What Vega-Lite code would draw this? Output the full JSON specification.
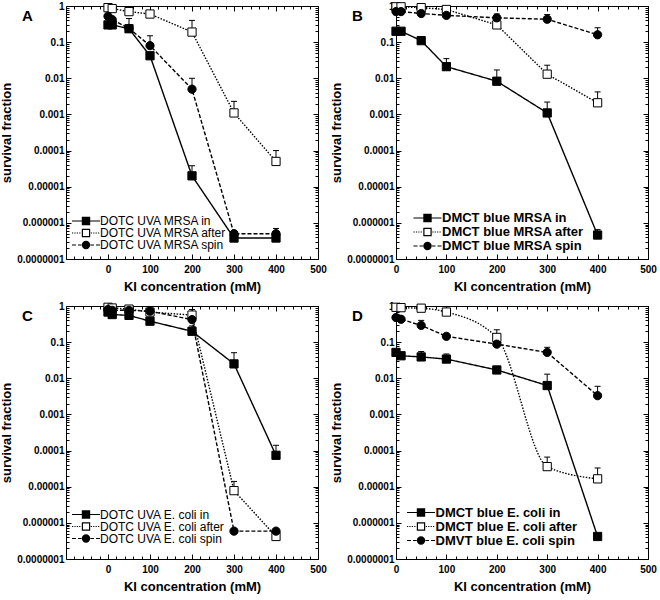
{
  "$schema": "https://vega.github.io/schema/vega-lite/v6.json",
  "padding": {"left": 0, "top": 0, "right": 0, "bottom": 0},
  "background": "white",
  "config": {
    "view": {"stroke": "black", "strokeWidth": 1},
    "font": "Liberation Sans",
    "axis": {"domain": false, "grid": false, "tickColor": "black", "tickWidth": 1, "labelColor": "black", "titleColor": "black", "labelFlush": false, "labelOverlap": false, "labelBound": false},
    "legend": {"padding": 0, "rowPadding": -1.5}
  },
  "datasets": {
    "d": [
      {"p":"A","s":"DOTC UVA MRSA in","k":"in","x":0,"y":0.3},
      {"p":"A","s":"DOTC UVA MRSA in","k":"in","x":10,"y":0.3},
      {"p":"A","s":"DOTC UVA MRSA in","k":"in","x":50,"y":0.235,"hi":0.45},
      {"p":"A","s":"DOTC UVA MRSA in","k":"in","x":100,"y":0.042},
      {"p":"A","s":"DOTC UVA MRSA in","k":"in","x":200,"y":0.00002,"hi":0.000038},
      {"p":"A","s":"DOTC UVA MRSA in","k":"in","x":300,"y":3.8e-7,"hi":4.8e-7},
      {"p":"A","s":"DOTC UVA MRSA in","k":"in","x":400,"y":3.8e-7},
      {"p":"A","s":"DOTC UVA MRSA after","k":"after","x":0,"y":0.9},
      {"p":"A","s":"DOTC UVA MRSA after","k":"after","x":10,"y":0.85},
      {"p":"A","s":"DOTC UVA MRSA after","k":"after","x":50,"y":0.7},
      {"p":"A","s":"DOTC UVA MRSA after","k":"after","x":100,"y":0.6},
      {"p":"A","s":"DOTC UVA MRSA after","k":"after","x":200,"y":0.19,"hi":0.4},
      {"p":"A","s":"DOTC UVA MRSA after","k":"after","x":300,"y":0.0011,"hi":0.0023},
      {"p":"A","s":"DOTC UVA MRSA after","k":"after","x":400,"y":0.00005,"hi":0.0001},
      {"p":"A","s":"DOTC UVA MRSA spin","k":"spin","x":0,"y":0.52},
      {"p":"A","s":"DOTC UVA MRSA spin","k":"spin","x":10,"y":0.42},
      {"p":"A","s":"DOTC UVA MRSA spin","k":"spin","x":50,"y":0.24},
      {"p":"A","s":"DOTC UVA MRSA spin","k":"spin","x":100,"y":0.08,"hi":0.15},
      {"p":"A","s":"DOTC UVA MRSA spin","k":"spin","x":200,"y":0.005,"hi":0.01},
      {"p":"A","s":"DOTC UVA MRSA spin","k":"spin","x":300,"y":5e-7,"hi":6.2e-7},
      {"p":"A","s":"DOTC UVA MRSA spin","k":"spin","x":400,"y":5e-7,"hi":7e-7},

      {"p":"B","s":"DMCT blue MRSA in","k":"in","x":0,"y":0.2},
      {"p":"B","s":"DMCT blue MRSA in","k":"in","x":10,"y":0.2},
      {"p":"B","s":"DMCT blue MRSA in","k":"in","x":50,"y":0.11},
      {"p":"B","s":"DMCT blue MRSA in","k":"in","x":100,"y":0.021,"hi":0.035},
      {"p":"B","s":"DMCT blue MRSA in","k":"in","x":200,"y":0.0083,"hi":0.017},
      {"p":"B","s":"DMCT blue MRSA in","k":"in","x":300,"y":0.0011,"hi":0.0022},
      {"p":"B","s":"DMCT blue MRSA in","k":"in","x":400,"y":4.6e-7,"hi":6.5e-7},
      {"p":"B","s":"DMCT blue MRSA after","k":"after","x":0,"y":0.95},
      {"p":"B","s":"DMCT blue MRSA after","k":"after","x":10,"y":0.95},
      {"p":"B","s":"DMCT blue MRSA after","k":"after","x":50,"y":0.9},
      {"p":"B","s":"DMCT blue MRSA after","k":"after","x":100,"y":0.8},
      {"p":"B","s":"DMCT blue MRSA after","k":"after","x":200,"y":0.3},
      {"p":"B","s":"DMCT blue MRSA after","k":"after","x":300,"y":0.013,"hi":0.023},
      {"p":"B","s":"DMCT blue MRSA after","k":"after","x":400,"y":0.0021,"hi":0.0042},
      {"p":"B","s":"DMCT blue MRSA spin","k":"spin","x":0,"y":0.7},
      {"p":"B","s":"DMCT blue MRSA spin","k":"spin","x":10,"y":0.7},
      {"p":"B","s":"DMCT blue MRSA spin","k":"spin","x":50,"y":0.62},
      {"p":"B","s":"DMCT blue MRSA spin","k":"spin","x":100,"y":0.55},
      {"p":"B","s":"DMCT blue MRSA spin","k":"spin","x":200,"y":0.47,"hi":0.6},
      {"p":"B","s":"DMCT blue MRSA spin","k":"spin","x":300,"y":0.43,"hi":0.58},
      {"p":"B","s":"DMCT blue MRSA spin","k":"spin","x":400,"y":0.16,"hi":0.25},

      {"p":"C","s":"DOTC UVA E. coli in","k":"in","x":0,"y":0.68},
      {"p":"C","s":"DOTC UVA E. coli in","k":"in","x":10,"y":0.58},
      {"p":"C","s":"DOTC UVA E. coli in","k":"in","x":50,"y":0.55},
      {"p":"C","s":"DOTC UVA E. coli in","k":"in","x":100,"y":0.38},
      {"p":"C","s":"DOTC UVA E. coli in","k":"in","x":200,"y":0.2,"hi":0.28},
      {"p":"C","s":"DOTC UVA E. coli in","k":"in","x":300,"y":0.025,"hi":0.051},
      {"p":"C","s":"DOTC UVA E. coli in","k":"in","x":400,"y":0.000074,"hi":0.00014},
      {"p":"C","s":"DOTC UVA E. coli after","k":"after","x":0,"y":0.92},
      {"p":"C","s":"DOTC UVA E. coli after","k":"after","x":10,"y":0.88},
      {"p":"C","s":"DOTC UVA E. coli after","k":"after","x":50,"y":0.82},
      {"p":"C","s":"DOTC UVA E. coli after","k":"after","x":100,"y":0.68},
      {"p":"C","s":"DOTC UVA E. coli after","k":"after","x":200,"y":0.56,"hi":0.8},
      {"p":"C","s":"DOTC UVA E. coli after","k":"after","x":300,"y":0.0000078,"hi":0.000014},
      {"p":"C","s":"DOTC UVA E. coli after","k":"after","x":400,"y":4.2e-7},
      {"p":"C","s":"DOTC UVA E. coli spin","k":"spin","x":0,"y":0.8},
      {"p":"C","s":"DOTC UVA E. coli spin","k":"spin","x":10,"y":0.76},
      {"p":"C","s":"DOTC UVA E. coli spin","k":"spin","x":50,"y":0.76},
      {"p":"C","s":"DOTC UVA E. coli spin","k":"spin","x":100,"y":0.72},
      {"p":"C","s":"DOTC UVA E. coli spin","k":"spin","x":200,"y":0.42,"hi":0.65},
      {"p":"C","s":"DOTC UVA E. coli spin","k":"spin","x":300,"y":5.9e-7},
      {"p":"C","s":"DOTC UVA E. coli spin","k":"spin","x":400,"y":5.9e-7},

      {"p":"D","s":"DMCT blue E. coli in","k":"in","x":0,"y":0.052},
      {"p":"D","s":"DMCT blue E. coli in","k":"in","x":10,"y":0.042},
      {"p":"D","s":"DMCT blue E. coli in","k":"in","x":50,"y":0.039,"hi":0.055},
      {"p":"D","s":"DMCT blue E. coli in","k":"in","x":100,"y":0.034,"hi":0.047},
      {"p":"D","s":"DMCT blue E. coli in","k":"in","x":200,"y":0.017},
      {"p":"D","s":"DMCT blue E. coli in","k":"in","x":300,"y":0.0063,"hi":0.013},
      {"p":"D","s":"DMCT blue E. coli in","k":"in","x":400,"y":4.2e-7},
      {"p":"D","s":"DMCT blue E. coli after","k":"after","x":0,"y":0.92},
      {"p":"D","s":"DMCT blue E. coli after","k":"after","x":10,"y":0.9},
      {"p":"D","s":"DMCT blue E. coli after","k":"after","x":50,"y":0.87},
      {"p":"D","s":"DMCT blue E. coli after","k":"after","x":100,"y":0.68},
      {"p":"D","s":"DMCT blue E. coli after","k":"after","x":200,"y":0.135,"hi":0.22},
      {"p":"D","s":"DMCT blue E. coli after","k":"after","x":300,"y":0.000036,"hi":0.000066},
      {"p":"D","s":"DMCT blue E. coli after","k":"after","x":400,"y":0.0000165,"hi":0.000033},
      {"p":"D","s":"DMVT blue E. coli spin","k":"spin","x":0,"y":0.48},
      {"p":"D","s":"DMVT blue E. coli spin","k":"spin","x":10,"y":0.43},
      {"p":"D","s":"DMVT blue E. coli spin","k":"spin","x":50,"y":0.29,"hi":0.4},
      {"p":"D","s":"DMVT blue E. coli spin","k":"spin","x":100,"y":0.145},
      {"p":"D","s":"DMVT blue E. coli spin","k":"spin","x":200,"y":0.088},
      {"p":"D","s":"DMVT blue E. coli spin","k":"spin","x":300,"y":0.052,"hi":0.072},
      {"p":"D","s":"DMVT blue E. coli spin","k":"spin","x":400,"y":0.0033,"hi":0.006}
    ]
  },
  "data": {"name": "d"},
  "columns": 2,
  "spacing": {"row": 47, "column": 78},
  "bounds": "flush",
  "resolve": {"scale": {"shape": "independent", "fill": "independent", "strokeDash": "independent", "x": "independent", "y": "independent"}, "legend": {"shape": "independent"}},
  "concat": [
    {
      "width": 252, "height": 253,
      "title": {"text": "A", "anchor": "start", "frame": "group", "orient": "top", "font": "Liberation Sans", "fontSize": 15, "fontWeight": "bold", "color": "black", "dx": -44, "dy": 21, "offset": -2, "baseline": "top"},
      "transform": [{"filter": "datum.p == 'A'"}],
      "resolve": {"axis": {"x": "independent", "y": "independent"}, "scale": {"shape": "independent"}},
      "layer": [
        {"mark": {"type": "line", "color": "black", "strokeWidth": 1.4},
         "encoding": {
           "x": {"field": "x", "type": "quantitative", "scale": {"domain": [-100, 500], "nice": false, "zero": false},
                 "axis": {"orient": "bottom", "values": [0, 100, 200, 300, 400, 500], "tickSize": -5, "labelPadding": 10, "labelFont": "Liberation Sans", "labelFontSize": 10, "labelFontWeight": "bold", "title": "KI concentration (mM)", "titleFont": "Liberation Sans", "titleFontSize": 13, "titleFontWeight": "bold", "titlePadding": 6}},
           "y": {"field": "y", "type": "quantitative", "scale": {"type": "log", "domain": [1e-7, 1], "nice": false},
                 "axis": {"orient": "left", "values": [1e-7, 1e-6, 1e-5, 0.0001, 0.001, 0.01, 0.1, 1], "format": ".7~f", "tickSize": -5, "labelPadding": 7, "labelFont": "Liberation Sans", "labelFontSize": 10, "labelFontWeight": "bold", "title": "survival fraction", "titleFont": "Liberation Sans", "titleFontSize": 13, "titleFontWeight": "bold", "titlePadding": 3}},
           "strokeDash": {"field": "k", "type": "nominal", "scale": {"domain": ["in", "after", "spin"], "range": [[1, 0], [1.5, 1.5], [4, 2]]}, "legend": null}
         }},
        {"transform": [{"filter": "isValid(datum.hi)"}],
         "mark": {"type": "rule", "color": "black", "strokeWidth": 1},
         "encoding": {
           "x": {"field": "x", "type": "quantitative", "scale": {"domain": [-100, 500], "nice": false, "zero": false},
                 "axis": {"orient": "bottom", "values": [-80,-60,-40,-20,20,40,60,80,120,140,160,180,220,240,260,280,320,340,360,380,420,440,460,480], "tickSize": -3, "labels": false, "title": null, "minExtent": 0}},
           "y": {"field": "y", "type": "quantitative", "scale": {"type": "log", "domain": [1e-7, 1], "nice": false},
                 "axis": {"orient": "left", "values": [2e-7,3e-7,4e-7,5e-7,6e-7,7e-7,8e-7,9e-7,2e-6,3e-6,4e-6,5e-6,6e-6,7e-6,8e-6,9e-6,2e-5,3e-5,4e-5,5e-5,6e-5,7e-5,8e-5,9e-5,0.0002,0.0003,0.0004,0.0005,0.0006,0.0007,0.0008,0.0009,0.002,0.003,0.004,0.005,0.006,0.007,0.008,0.009,0.02,0.03,0.04,0.05,0.06,0.07,0.08,0.09,0.2,0.3,0.4,0.5,0.6,0.7,0.8,0.9], "tickSize": -3, "labels": false, "title": null, "minExtent": 0}},
           "y2": {"field": "hi"}
         }},
        {"transform": [{"filter": "isValid(datum.hi)"}],
         "mark": {"type": "point", "shape": "stroke", "size": 36, "color": "black", "strokeWidth": 1, "opacity": 1},
         "encoding": {
           "x": {"field": "x", "type": "quantitative", "scale": {"domain": [-100, 500], "nice": false, "zero": false},
                 "axis": {"orient": "top", "values": [0, 100, 200, 300, 400, 500], "tickSize": -5, "labels": false, "title": null, "minExtent": 0}},
           "y": {"field": "hi", "type": "quantitative", "scale": {"type": "log", "domain": [1e-7, 1], "nice": false},
                 "axis": {"orient": "right", "values": [1e-7, 1e-6, 1e-5, 0.0001, 0.001, 0.01, 0.1, 1], "tickSize": -5, "labels": false, "title": null, "minExtent": 0}}
         }},
        {"mark": {"type": "point", "filled": true, "opacity": 1, "stroke": "black", "strokeWidth": 1, "size": 68},
         "encoding": {
           "x": {"field": "x", "type": "quantitative", "scale": {"domain": [-100, 500], "nice": false, "zero": false},
                 "axis": {"orient": "top", "values": [-80,-60,-40,-20,20,40,60,80,120,140,160,180,220,240,260,280,320,340,360,380,420,440,460,480], "tickSize": -3, "labels": false, "title": null, "minExtent": 0}},
           "y": {"field": "y", "type": "quantitative", "scale": {"type": "log", "domain": [1e-7, 1], "nice": false},
                 "axis": {"orient": "right", "values": [2e-7,3e-7,4e-7,5e-7,6e-7,7e-7,8e-7,9e-7,2e-6,3e-6,4e-6,5e-6,6e-6,7e-6,8e-6,9e-6,2e-5,3e-5,4e-5,5e-5,6e-5,7e-5,8e-5,9e-5,0.0002,0.0003,0.0004,0.0005,0.0006,0.0007,0.0008,0.0009,0.002,0.003,0.004,0.005,0.006,0.007,0.008,0.009,0.02,0.03,0.04,0.05,0.06,0.07,0.08,0.09,0.2,0.3,0.4,0.5,0.6,0.7,0.8,0.9], "tickSize": -3, "labels": false, "title": null, "minExtent": 0}},
           "shape": {"field": "k", "type": "nominal", "scale": {"domain": ["in", "after", "spin"], "range": ["square", "square", "circle"]}, "legend": null},
           "fill": {"field": "k", "type": "nominal", "scale": {"domain": ["in", "after", "spin"], "range": ["black", "white", "black"]}, "legend": null}
         }},
        {"transform": [{"filter": "false"}],
         "mark": {"type": "point", "filled": false, "color": "black", "strokeWidth": 1.2, "opacity": 1, "size": 64},
         "encoding": {
           "x": {"field": "x", "type": "quantitative", "scale": {"domain": [-100, 500], "nice": false, "zero": false}, "axis": null},
           "y": {"field": "y", "type": "quantitative", "scale": {"type": "log", "domain": [1e-7, 1], "nice": false}, "axis": null},
           "shape": {"field": "s", "type": "nominal",
                     "scale": {"domain": ["DOTC UVA MRSA in", "DOTC UVA MRSA after", "DOTC UVA MRSA spin"],
                               "range": ["M-3.5,0H-0.9M0.9,0H3.5M-0.9,-0.9H0.9V0.9H-0.9ZM-0.9,-0.6H0.9M-0.9,-0.3H0.9M-0.9,0H0.9M-0.9,0.3H0.9M-0.9,0.6H0.9",
                                         "M-3.5,0h0.3M-2.9,0h0.3M-2.3,0h0.3M-1.7,0h0.3M1.2,0h0.3M1.8,0h0.3M2.4,0h0.3M3.0,0h0.3M-0.9,-0.9H0.9V0.9H-0.9Z",
                                         "M-3.5,0h1M-2,0h0.9M1.1,0h0.9M2.5,0h1M-0.9,0A0.9,0.9 0 1,1 0.9,0A0.9,0.9 0 1,1 -0.9,0M-0.6,0A0.6,0.6 0 1,1 0.6,0A0.6,0.6 0 1,1 -0.6,0M-0.3,0A0.3,0.3 0 1,1 0.3,0A0.3,0.3 0 1,1 -0.3,0M-0.15,0H0.15"]},
                     "legend": {"title": null, "orient": "none", "legendX": 14, "legendY": 209, "symbolSize": 64, "symbolOpacity": 1, "symbolStrokeColor": "black", "symbolStrokeWidth": 1.2, "labelOffset": 8, "labelFont": "Liberation Sans", "labelFontSize": 12, "labelFontWeight": "normal", "labelColor": "black", "labelLimit": 300, "padding": 0}}
         }}
      ]
    },
    {
      "width": 252, "height": 253,
      "title": {"text": "B", "anchor": "start", "frame": "group", "orient": "top", "font": "Liberation Sans", "fontSize": 15, "fontWeight": "bold", "color": "black", "dx": -44, "dy": 21, "offset": -2, "baseline": "top"},
      "transform": [{"filter": "datum.p == 'B'"}],
      "resolve": {"axis": {"x": "independent", "y": "independent"}, "scale": {"shape": "independent"}},
      "layer": [
        {"mark": {"type": "line", "color": "black", "strokeWidth": 1.4},
         "encoding": {
           "x": {"field": "x", "type": "quantitative", "scale": {"domain": [0, 500], "nice": false, "zero": false},
                 "axis": {"orient": "bottom", "values": [0, 100, 200, 300, 400, 500], "tickSize": -5, "labelPadding": 10, "labelFont": "Liberation Sans", "labelFontSize": 10, "labelFontWeight": "bold", "title": "KI concentration (mM)", "titleFont": "Liberation Sans", "titleFontSize": 13, "titleFontWeight": "bold", "titlePadding": 6}},
           "y": {"field": "y", "type": "quantitative", "scale": {"type": "log", "domain": [1e-7, 1], "nice": false},
                 "axis": {"orient": "left", "values": [1e-7, 1e-6, 1e-5, 0.0001, 0.001, 0.01, 0.1, 1], "format": ".7~f", "tickSize": -5, "labelPadding": 7, "labelFont": "Liberation Sans", "labelFontSize": 10, "labelFontWeight": "bold", "title": "survival fraction", "titleFont": "Liberation Sans", "titleFontSize": 13, "titleFontWeight": "bold", "titlePadding": 3}},
           "strokeDash": {"field": "k", "type": "nominal", "scale": {"domain": ["in", "after", "spin"], "range": [[1, 0], [1.5, 1.5], [4, 2]]}, "legend": null}
         }},
        {"transform": [{"filter": "isValid(datum.hi)"}],
         "mark": {"type": "rule", "color": "black", "strokeWidth": 1},
         "encoding": {
           "x": {"field": "x", "type": "quantitative", "scale": {"domain": [0, 500], "nice": false, "zero": false},
                 "axis": {"orient": "bottom", "values": [20,40,60,80,120,140,160,180,220,240,260,280,320,340,360,380,420,440,460,480], "tickSize": -3, "labels": false, "title": null, "minExtent": 0}},
           "y": {"field": "y", "type": "quantitative", "scale": {"type": "log", "domain": [1e-7, 1], "nice": false},
                 "axis": {"orient": "left", "values": [2e-7,3e-7,4e-7,5e-7,6e-7,7e-7,8e-7,9e-7,2e-6,3e-6,4e-6,5e-6,6e-6,7e-6,8e-6,9e-6,2e-5,3e-5,4e-5,5e-5,6e-5,7e-5,8e-5,9e-5,0.0002,0.0003,0.0004,0.0005,0.0006,0.0007,0.0008,0.0009,0.002,0.003,0.004,0.005,0.006,0.007,0.008,0.009,0.02,0.03,0.04,0.05,0.06,0.07,0.08,0.09,0.2,0.3,0.4,0.5,0.6,0.7,0.8,0.9], "tickSize": -3, "labels": false, "title": null, "minExtent": 0}},
           "y2": {"field": "hi"}
         }},
        {"transform": [{"filter": "isValid(datum.hi)"}],
         "mark": {"type": "point", "shape": "stroke", "size": 36, "color": "black", "strokeWidth": 1, "opacity": 1},
         "encoding": {
           "x": {"field": "x", "type": "quantitative", "scale": {"domain": [0, 500], "nice": false, "zero": false},
                 "axis": {"orient": "top", "values": [0, 100, 200, 300, 400, 500], "tickSize": -5, "labels": false, "title": null, "minExtent": 0}},
           "y": {"field": "hi", "type": "quantitative", "scale": {"type": "log", "domain": [1e-7, 1], "nice": false},
                 "axis": {"orient": "right", "values": [1e-7, 1e-6, 1e-5, 0.0001, 0.001, 0.01, 0.1, 1], "tickSize": -5, "labels": false, "title": null, "minExtent": 0}}
         }},
        {"mark": {"type": "point", "filled": true, "opacity": 1, "stroke": "black", "strokeWidth": 1, "size": 68},
         "encoding": {
           "x": {"field": "x", "type": "quantitative", "scale": {"domain": [0, 500], "nice": false, "zero": false},
                 "axis": {"orient": "top", "values": [20,40,60,80,120,140,160,180,220,240,260,280,320,340,360,380,420,440,460,480], "tickSize": -3, "labels": false, "title": null, "minExtent": 0}},
           "y": {"field": "y", "type": "quantitative", "scale": {"type": "log", "domain": [1e-7, 1], "nice": false},
                 "axis": {"orient": "right", "values": [2e-7,3e-7,4e-7,5e-7,6e-7,7e-7,8e-7,9e-7,2e-6,3e-6,4e-6,5e-6,6e-6,7e-6,8e-6,9e-6,2e-5,3e-5,4e-5,5e-5,6e-5,7e-5,8e-5,9e-5,0.0002,0.0003,0.0004,0.0005,0.0006,0.0007,0.0008,0.0009,0.002,0.003,0.004,0.005,0.006,0.007,0.008,0.009,0.02,0.03,0.04,0.05,0.06,0.07,0.08,0.09,0.2,0.3,0.4,0.5,0.6,0.7,0.8,0.9], "tickSize": -3, "labels": false, "title": null, "minExtent": 0}},
           "shape": {"field": "k", "type": "nominal", "scale": {"domain": ["in", "after", "spin"], "range": ["square", "square", "circle"]}, "legend": null},
           "fill": {"field": "k", "type": "nominal", "scale": {"domain": ["in", "after", "spin"], "range": ["black", "white", "black"]}, "legend": null}
         }},
        {"transform": [{"filter": "false"}],
         "mark": {"type": "point", "filled": false, "color": "black", "strokeWidth": 1.2, "opacity": 1, "size": 64},
         "encoding": {
           "x": {"field": "x", "type": "quantitative", "scale": {"domain": [0, 500], "nice": false, "zero": false}, "axis": null},
           "y": {"field": "y", "type": "quantitative", "scale": {"type": "log", "domain": [1e-7, 1], "nice": false}, "axis": null},
           "shape": {"field": "s", "type": "nominal",
                     "scale": {"domain": ["DMCT blue MRSA in", "DMCT blue MRSA after", "DMCT blue MRSA spin"],
                               "range": ["M-3.5,0H-0.9M0.9,0H3.5M-0.9,-0.9H0.9V0.9H-0.9ZM-0.9,-0.6H0.9M-0.9,-0.3H0.9M-0.9,0H0.9M-0.9,0.3H0.9M-0.9,0.6H0.9",
                                         "M-3.5,0h0.3M-2.9,0h0.3M-2.3,0h0.3M-1.7,0h0.3M1.2,0h0.3M1.8,0h0.3M2.4,0h0.3M3.0,0h0.3M-0.9,-0.9H0.9V0.9H-0.9Z",
                                         "M-3.5,0h1M-2,0h0.9M1.1,0h0.9M2.5,0h1M-0.9,0A0.9,0.9 0 1,1 0.9,0A0.9,0.9 0 1,1 -0.9,0M-0.6,0A0.6,0.6 0 1,1 0.6,0A0.6,0.6 0 1,1 -0.6,0M-0.3,0A0.3,0.3 0 1,1 0.3,0A0.3,0.3 0 1,1 -0.3,0M-0.15,0H0.15"]},
                     "legend": {"title": null, "orient": "none", "legendX": 25, "legendY": 205.5, "symbolSize": 64, "symbolOpacity": 1, "symbolStrokeColor": "black", "symbolStrokeWidth": 1.2, "labelOffset": 8, "labelFont": "Liberation Sans", "labelFontSize": 13, "labelFontWeight": "bold", "labelColor": "black", "labelLimit": 300, "padding": 0}}
         }}
      ]
    },
    {
      "width": 252, "height": 253,
      "title": {"text": "C", "anchor": "start", "frame": "group", "orient": "top", "font": "Liberation Sans", "fontSize": 15, "fontWeight": "bold", "color": "black", "dx": -44, "dy": 21, "offset": -2, "baseline": "top"},
      "transform": [{"filter": "datum.p == 'C'"}],
      "resolve": {"axis": {"x": "independent", "y": "independent"}, "scale": {"shape": "independent"}},
      "layer": [
        {"mark": {"type": "line", "color": "black", "strokeWidth": 1.4},
         "encoding": {
           "x": {"field": "x", "type": "quantitative", "scale": {"domain": [-100, 500], "nice": false, "zero": false},
                 "axis": {"orient": "bottom", "values": [0, 100, 200, 300, 400, 500], "tickSize": -5, "labelPadding": 10, "labelFont": "Liberation Sans", "labelFontSize": 10, "labelFontWeight": "bold", "title": "KI concentration (mM)", "titleFont": "Liberation Sans", "titleFontSize": 13, "titleFontWeight": "bold", "titlePadding": 6}},
           "y": {"field": "y", "type": "quantitative", "scale": {"type": "log", "domain": [1e-7, 1], "nice": false},
                 "axis": {"orient": "left", "values": [1e-7, 1e-6, 1e-5, 0.0001, 0.001, 0.01, 0.1, 1], "format": ".7~f", "tickSize": -5, "labelPadding": 7, "labelFont": "Liberation Sans", "labelFontSize": 10, "labelFontWeight": "bold", "title": "survival fraction", "titleFont": "Liberation Sans", "titleFontSize": 13, "titleFontWeight": "bold", "titlePadding": 3}},
           "strokeDash": {"field": "k", "type": "nominal", "scale": {"domain": ["in", "after", "spin"], "range": [[1, 0], [1.5, 1.5], [4, 2]]}, "legend": null}
         }},
        {"transform": [{"filter": "isValid(datum.hi)"}],
         "mark": {"type": "rule", "color": "black", "strokeWidth": 1},
         "encoding": {
           "x": {"field": "x", "type": "quantitative", "scale": {"domain": [-100, 500], "nice": false, "zero": false},
                 "axis": {"orient": "bottom", "values": [-80,-60,-40,-20,20,40,60,80,120,140,160,180,220,240,260,280,320,340,360,380,420,440,460,480], "tickSize": -3, "labels": false, "title": null, "minExtent": 0}},
           "y": {"field": "y", "type": "quantitative", "scale": {"type": "log", "domain": [1e-7, 1], "nice": false},
                 "axis": {"orient": "left", "values": [2e-7,3e-7,4e-7,5e-7,6e-7,7e-7,8e-7,9e-7,2e-6,3e-6,4e-6,5e-6,6e-6,7e-6,8e-6,9e-6,2e-5,3e-5,4e-5,5e-5,6e-5,7e-5,8e-5,9e-5,0.0002,0.0003,0.0004,0.0005,0.0006,0.0007,0.0008,0.0009,0.002,0.003,0.004,0.005,0.006,0.007,0.008,0.009,0.02,0.03,0.04,0.05,0.06,0.07,0.08,0.09,0.2,0.3,0.4,0.5,0.6,0.7,0.8,0.9], "tickSize": -3, "labels": false, "title": null, "minExtent": 0}},
           "y2": {"field": "hi"}
         }},
        {"transform": [{"filter": "isValid(datum.hi)"}],
         "mark": {"type": "point", "shape": "stroke", "size": 36, "color": "black", "strokeWidth": 1, "opacity": 1},
         "encoding": {
           "x": {"field": "x", "type": "quantitative", "scale": {"domain": [-100, 500], "nice": false, "zero": false},
                 "axis": {"orient": "top", "values": [0, 100, 200, 300, 400, 500], "tickSize": -5, "labels": false, "title": null, "minExtent": 0}},
           "y": {"field": "hi", "type": "quantitative", "scale": {"type": "log", "domain": [1e-7, 1], "nice": false},
                 "axis": {"orient": "right", "values": [1e-7, 1e-6, 1e-5, 0.0001, 0.001, 0.01, 0.1, 1], "tickSize": -5, "labels": false, "title": null, "minExtent": 0}}
         }},
        {"mark": {"type": "point", "filled": true, "opacity": 1, "stroke": "black", "strokeWidth": 1, "size": 68},
         "encoding": {
           "x": {"field": "x", "type": "quantitative", "scale": {"domain": [-100, 500], "nice": false, "zero": false},
                 "axis": {"orient": "top", "values": [-80,-60,-40,-20,20,40,60,80,120,140,160,180,220,240,260,280,320,340,360,380,420,440,460,480], "tickSize": -3, "labels": false, "title": null, "minExtent": 0}},
           "y": {"field": "y", "type": "quantitative", "scale": {"type": "log", "domain": [1e-7, 1], "nice": false},
                 "axis": {"orient": "right", "values": [2e-7,3e-7,4e-7,5e-7,6e-7,7e-7,8e-7,9e-7,2e-6,3e-6,4e-6,5e-6,6e-6,7e-6,8e-6,9e-6,2e-5,3e-5,4e-5,5e-5,6e-5,7e-5,8e-5,9e-5,0.0002,0.0003,0.0004,0.0005,0.0006,0.0007,0.0008,0.0009,0.002,0.003,0.004,0.005,0.006,0.007,0.008,0.009,0.02,0.03,0.04,0.05,0.06,0.07,0.08,0.09,0.2,0.3,0.4,0.5,0.6,0.7,0.8,0.9], "tickSize": -3, "labels": false, "title": null, "minExtent": 0}},
           "shape": {"field": "k", "type": "nominal", "scale": {"domain": ["in", "after", "spin"], "range": ["square", "square", "circle"]}, "legend": null},
           "fill": {"field": "k", "type": "nominal", "scale": {"domain": ["in", "after", "spin"], "range": ["black", "white", "black"]}, "legend": null}
         }},
        {"transform": [{"filter": "false"}],
         "mark": {"type": "point", "filled": false, "color": "black", "strokeWidth": 1.2, "opacity": 1, "size": 64},
         "encoding": {
           "x": {"field": "x", "type": "quantitative", "scale": {"domain": [-100, 500], "nice": false, "zero": false}, "axis": null},
           "y": {"field": "y", "type": "quantitative", "scale": {"type": "log", "domain": [1e-7, 1], "nice": false}, "axis": null},
           "shape": {"field": "s", "type": "nominal",
                     "scale": {"domain": ["DOTC UVA E. coli in", "DOTC UVA E. coli after", "DOTC UVA E. coli spin"],
                               "range": ["M-3.5,0H-0.9M0.9,0H3.5M-0.9,-0.9H0.9V0.9H-0.9ZM-0.9,-0.6H0.9M-0.9,-0.3H0.9M-0.9,0H0.9M-0.9,0.3H0.9M-0.9,0.6H0.9",
                                         "M-3.5,0h0.3M-2.9,0h0.3M-2.3,0h0.3M-1.7,0h0.3M1.2,0h0.3M1.8,0h0.3M2.4,0h0.3M3.0,0h0.3M-0.9,-0.9H0.9V0.9H-0.9Z",
                                         "M-3.5,0h1M-2,0h0.9M1.1,0h0.9M2.5,0h1M-0.9,0A0.9,0.9 0 1,1 0.9,0A0.9,0.9 0 1,1 -0.9,0M-0.6,0A0.6,0.6 0 1,1 0.6,0A0.6,0.6 0 1,1 -0.6,0M-0.3,0A0.3,0.3 0 1,1 0.3,0A0.3,0.3 0 1,1 -0.3,0M-0.15,0H0.15"]},
                     "legend": {"title": null, "orient": "none", "legendX": 14, "legendY": 202.5, "symbolSize": 64, "symbolOpacity": 1, "symbolStrokeColor": "black", "symbolStrokeWidth": 1.2, "labelOffset": 8, "labelFont": "Liberation Sans", "labelFontSize": 12, "labelFontWeight": "normal", "labelColor": "black", "labelLimit": 300, "padding": 0}}
         }}
      ]
    },
    {
      "width": 252, "height": 253,
      "title": {"text": "D", "anchor": "start", "frame": "group", "orient": "top", "font": "Liberation Sans", "fontSize": 15, "fontWeight": "bold", "color": "black", "dx": -44, "dy": 21, "offset": -2, "baseline": "top"},
      "transform": [{"filter": "datum.p == 'D'"}],
      "resolve": {"axis": {"x": "independent", "y": "independent"}, "scale": {"shape": "independent"}},
      "layer": [
        {"transform": [{"filter": "datum.k != 'after'"}],
         "mark": {"type": "line", "color": "black", "strokeWidth": 1.4},
         "encoding": {
           "x": {"field": "x", "type": "quantitative", "scale": {"domain": [0, 500], "nice": false, "zero": false},
                 "axis": {"orient": "bottom", "values": [0, 100, 200, 300, 400, 500], "tickSize": -5, "labelPadding": 10, "labelFont": "Liberation Sans", "labelFontSize": 10, "labelFontWeight": "bold", "title": "KI concentration (mM)", "titleFont": "Liberation Sans", "titleFontSize": 13, "titleFontWeight": "bold", "titlePadding": 6}},
           "y": {"field": "y", "type": "quantitative", "scale": {"type": "log", "domain": [1e-7, 1], "nice": false},
                 "axis": {"orient": "left", "values": [1e-7, 1e-6, 1e-5, 0.0001, 0.001, 0.01, 0.1, 1], "format": ".7~f", "tickSize": -5, "labelPadding": 7, "labelFont": "Liberation Sans", "labelFontSize": 10, "labelFontWeight": "bold", "title": "survival fraction", "titleFont": "Liberation Sans", "titleFontSize": 13, "titleFontWeight": "bold", "titlePadding": 3}},
           "strokeDash": {"field": "k", "type": "nominal", "scale": {"domain": ["in", "after", "spin"], "range": [[1, 0], [1.5, 1.5], [4, 2]]}, "legend": null}
         }},
        {"transform": [{"filter": "datum.k == 'after'"}],
         "mark": {"type": "line", "color": "black", "strokeWidth": 1.4, "interpolate": "monotone", "strokeDash": [1.5, 1.5]},
         "encoding": {
           "x": {"field": "x", "type": "quantitative", "scale": {"domain": [0, 500], "nice": false, "zero": false}, "axis": null},
           "y": {"field": "y", "type": "quantitative", "scale": {"type": "log", "domain": [1e-7, 1], "nice": false}, "axis": null}
         }},
        {"transform": [{"filter": "isValid(datum.hi)"}],
         "mark": {"type": "rule", "color": "black", "strokeWidth": 1},
         "encoding": {
           "x": {"field": "x", "type": "quantitative", "scale": {"domain": [0, 500], "nice": false, "zero": false},
                 "axis": {"orient": "bottom", "values": [20,40,60,80,120,140,160,180,220,240,260,280,320,340,360,380,420,440,460,480], "tickSize": -3, "labels": false, "title": null, "minExtent": 0}},
           "y": {"field": "y", "type": "quantitative", "scale": {"type": "log", "domain": [1e-7, 1], "nice": false},
                 "axis": {"orient": "left", "values": [2e-7,3e-7,4e-7,5e-7,6e-7,7e-7,8e-7,9e-7,2e-6,3e-6,4e-6,5e-6,6e-6,7e-6,8e-6,9e-6,2e-5,3e-5,4e-5,5e-5,6e-5,7e-5,8e-5,9e-5,0.0002,0.0003,0.0004,0.0005,0.0006,0.0007,0.0008,0.0009,0.002,0.003,0.004,0.005,0.006,0.007,0.008,0.009,0.02,0.03,0.04,0.05,0.06,0.07,0.08,0.09,0.2,0.3,0.4,0.5,0.6,0.7,0.8,0.9], "tickSize": -3, "labels": false, "title": null, "minExtent": 0}},
           "y2": {"field": "hi"}
         }},
        {"transform": [{"filter": "isValid(datum.hi)"}],
         "mark": {"type": "point", "shape": "stroke", "size": 36, "color": "black", "strokeWidth": 1, "opacity": 1},
         "encoding": {
           "x": {"field": "x", "type": "quantitative", "scale": {"domain": [0, 500], "nice": false, "zero": false},
                 "axis": {"orient": "top", "values": [0, 100, 200, 300, 400, 500], "tickSize": -5, "labels": false, "title": null, "minExtent": 0}},
           "y": {"field": "hi", "type": "quantitative", "scale": {"type": "log", "domain": [1e-7, 1], "nice": false},
                 "axis": {"orient": "right", "values": [1e-7, 1e-6, 1e-5, 0.0001, 0.001, 0.01, 0.1, 1], "tickSize": -5, "labels": false, "title": null, "minExtent": 0}}
         }},
        {"mark": {"type": "point", "filled": true, "opacity": 1, "stroke": "black", "strokeWidth": 1, "size": 68},
         "encoding": {
           "x": {"field": "x", "type": "quantitative", "scale": {"domain": [0, 500], "nice": false, "zero": false},
                 "axis": {"orient": "top", "values": [20,40,60,80,120,140,160,180,220,240,260,280,320,340,360,380,420,440,460,480], "tickSize": -3, "labels": false, "title": null, "minExtent": 0}},
           "y": {"field": "y", "type": "quantitative", "scale": {"type": "log", "domain": [1e-7, 1], "nice": false},
                 "axis": {"orient": "right", "values": [2e-7,3e-7,4e-7,5e-7,6e-7,7e-7,8e-7,9e-7,2e-6,3e-6,4e-6,5e-6,6e-6,7e-6,8e-6,9e-6,2e-5,3e-5,4e-5,5e-5,6e-5,7e-5,8e-5,9e-5,0.0002,0.0003,0.0004,0.0005,0.0006,0.0007,0.0008,0.0009,0.002,0.003,0.004,0.005,0.006,0.007,0.008,0.009,0.02,0.03,0.04,0.05,0.06,0.07,0.08,0.09,0.2,0.3,0.4,0.5,0.6,0.7,0.8,0.9], "tickSize": -3, "labels": false, "title": null, "minExtent": 0}},
           "shape": {"field": "k", "type": "nominal", "scale": {"domain": ["in", "after", "spin"], "range": ["square", "square", "circle"]}, "legend": null},
           "fill": {"field": "k", "type": "nominal", "scale": {"domain": ["in", "after", "spin"], "range": ["black", "white", "black"]}, "legend": null}
         }},
        {"transform": [{"filter": "false"}],
         "mark": {"type": "point", "filled": false, "color": "black", "strokeWidth": 1.2, "opacity": 1, "size": 64},
         "encoding": {
           "x": {"field": "x", "type": "quantitative", "scale": {"domain": [0, 500], "nice": false, "zero": false}, "axis": null},
           "y": {"field": "y", "type": "quantitative", "scale": {"type": "log", "domain": [1e-7, 1], "nice": false}, "axis": null},
           "shape": {"field": "s", "type": "nominal",
                     "scale": {"domain": ["DMCT blue E. coli in", "DMCT blue E. coli after", "DMVT blue E. coli spin"],
                               "range": ["M-3.5,0H-0.9M0.9,0H3.5M-0.9,-0.9H0.9V0.9H-0.9ZM-0.9,-0.6H0.9M-0.9,-0.3H0.9M-0.9,0H0.9M-0.9,0.3H0.9M-0.9,0.6H0.9",
                                         "M-3.5,0h0.3M-2.9,0h0.3M-2.3,0h0.3M-1.7,0h0.3M1.2,0h0.3M1.8,0h0.3M2.4,0h0.3M3.0,0h0.3M-0.9,-0.9H0.9V0.9H-0.9Z",
                                         "M-3.5,0h1M-2,0h0.9M1.1,0h0.9M2.5,0h1M-0.9,0A0.9,0.9 0 1,1 0.9,0A0.9,0.9 0 1,1 -0.9,0M-0.6,0A0.6,0.6 0 1,1 0.6,0A0.6,0.6 0 1,1 -0.6,0M-0.3,0A0.3,0.3 0 1,1 0.3,0A0.3,0.3 0 1,1 -0.3,0M-0.15,0H0.15"]},
                     "legend": {"title": null, "orient": "none", "legendX": 18.5, "legendY": 200, "symbolSize": 64, "symbolOpacity": 1, "symbolStrokeColor": "black", "symbolStrokeWidth": 1.2, "labelOffset": 8, "labelFont": "Liberation Sans", "labelFontSize": 13, "labelFontWeight": "bold", "labelColor": "black", "labelLimit": 300, "padding": 0}}
         }}
      ]
    }
  ]
}
